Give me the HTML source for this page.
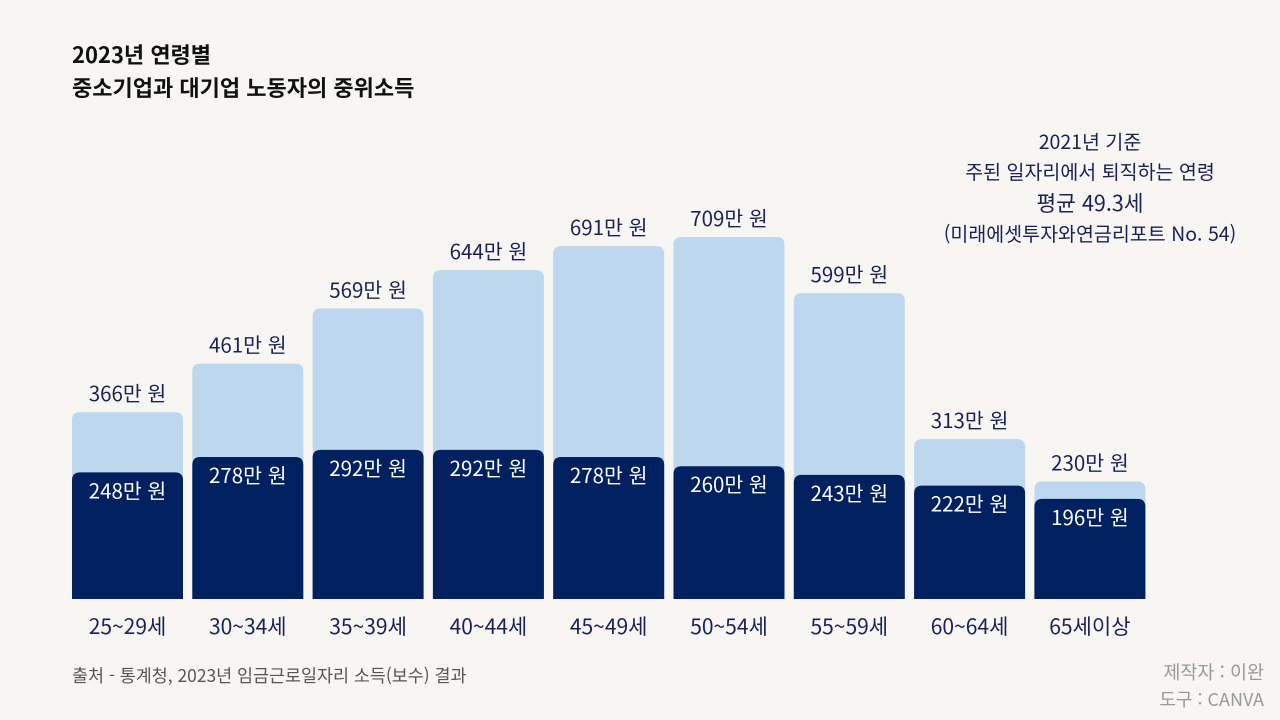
<!DOCTYPE html>
<html lang="ko"><head><meta charset="utf-8">
<style>
html,body{margin:0;padding:0;background:#f8f6f2;}
svg{display:block;font-family:"Noto Sans CJK KR","Liberation Sans",sans-serif;}
</style></head>
<body>
<svg id="chart" width="1280" height="720" viewBox="0 0 1280 720">
<rect width="1280" height="720" fill="#f8f6f2"/>
<text x="72" y="63" font-size="22" font-weight="bold" fill="#111">2023년 연령별</text>
<text x="72" y="96" font-size="22" font-weight="bold" fill="#111">중소기업과 대기업 노동자의 중위소득</text>
<g fill="#1a2255" text-anchor="middle">
<text x="1090" y="149" font-size="19.5">2021년 기준</text>
<text x="1090" y="179" font-size="19.5">주된 일자리에서 퇴직하는 연령</text>
<text x="1090" y="211" font-size="21.5">평균 49.3세</text>
<text x="1090" y="241" font-size="19.5">(미래에셋투자와연금리포트 No. 54)</text>
</g>
<g id="bars"></g>
<text x="72" y="682" font-size="17.4" fill="#555">출처 - 통계청, 2023년 임금근로일자리 소득(보수) 결과</text>
<text x="1264" y="679" font-size="18.5" fill="#999" text-anchor="end">제작자 : 이완</text>
<text x="1264" y="706" font-size="18" fill="#999" text-anchor="end">도구 : CANVA</text>
</svg>
<script>
const categories=["25~29세","30~34세","35~39세","40~44세","45~49세","50~54세","55~59세","60~64세","65세이상"];
const largeCo=[366,461,569,644,691,709,599,313,230];
const smallCo=[248,278,292,292,278,260,243,222,196];
const NS="http://www.w3.org/2000/svg";
const baseY=599, scale=0.5106, x0=72, step=120.3, bw=111, r=8;
function y(v){return baseY-v*scale;}
function xc(i){return x0+i*step;}
function barPath(x,top,w){const h=baseY-top;const rr=Math.min(r,h/2);
 return `M${x},${baseY}V${top+rr}Q${x},${top} ${x+rr},${top}H${x+w-rr}Q${x+w},${top} ${x+w},${top+rr}V${baseY}Z`;}
const g=document.getElementById('bars');
function mk(tag,attrs,txt){const e=document.createElementNS(NS,tag);for(const k in attrs)e.setAttribute(k,attrs[k]);if(txt!=null)e.textContent=txt;g.appendChild(e);return e;}
categories.forEach((c,i)=>{
 const x=xc(i), cx=x+bw/2;
 const b1=mk('path',{d:barPath(x,y(largeCo[i]),bw),fill:'#bdd7ee'});
 
 
 const b2=mk('path',{d:barPath(x,y(smallCo[i]),bw),fill:'#002060'});
 
 
 const t1=mk('text',{x:cx,y:y(largeCo[i])-11,'font-size':20.5,fill:'#1a2255','text-anchor':'middle'},largeCo[i]+'만 원');
 
 
 const t2=mk('text',{x:cx,y:y(smallCo[i])+26,'font-size':20.5,fill:'#fff','text-anchor':'middle'},smallCo[i]+'만 원');
 
 
 const t3=mk('text',{x:cx,y:634,'font-size':21,fill:'#1a2255','text-anchor':'middle'},c);
 
 
});
</script>
</body></html>
